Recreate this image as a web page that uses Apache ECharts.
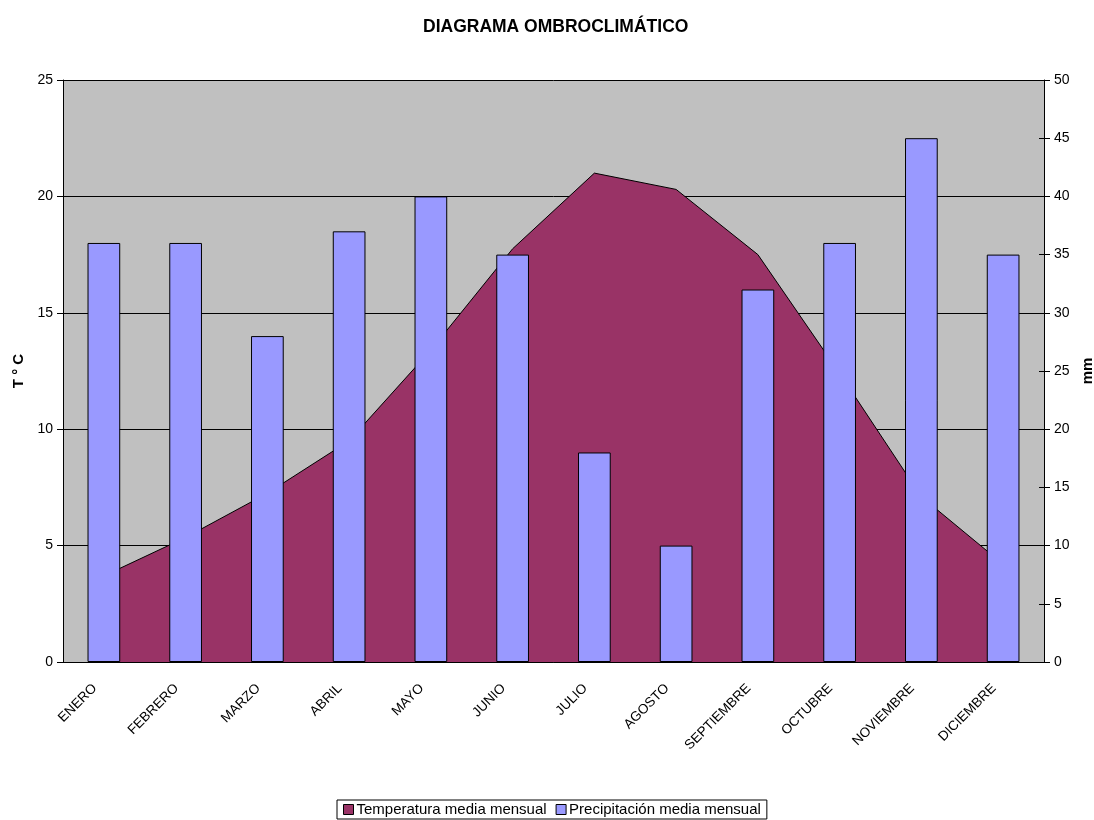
<!DOCTYPE html>
<html>
<head>
<meta charset="utf-8">
<script src="https://cdn.jsdelivr.net/npm/echarts@6/dist/echarts.min.js"></script>
<style>
  html, body { margin: 0; padding: 0; background: #fff; }
  #chart { width: 1094px; height: 820px; }
</style>
</head>
<body>
<div id="chart"></div>
<script>
// meses
const months = ['ENERO', 'FEBRERO', 'MARZO', 'ABRIL', 'MAYO', 'JUNIO', 'JULIO', 'AGOSTO', 'SEPTIEMBRE', 'OCTUBRE', 'NOVIEMBRE', 'DICIEMBRE']
// temperatura media (°C)
const temperatura = [3.7, 5.35, 7.25, 9.5, 13.4, 17.75, 21.0, 20.3, 17.5, 12.4, 7.1, 4.2]
// precipitacion media (mm)
const precipitacion = [36, 36, 28, 37, 40, 35, 18, 10, 32, 36, 45, 35]

const font = 'Liberation Sans, Arial, sans-serif'

let myChart = echarts.init(document.getElementById('chart'))
let option = {
  animation: false,
  textStyle: { fontFamily: font },
  title: {
    text: 'DIAGRAMA OMBROCLIMÁTICO',
    left: 418,
    top: 13,
    textStyle: { fontSize: 17.5, fontWeight: 'bold', color: '#000', fontFamily: font }
  },
  legend: {
    bottom: 1,
    left: 337,
    borderColor: '#000',
    borderWidth: 1,
    padding: [2, 6],
    itemWidth: 10,
    itemHeight: 10,
    itemGap: 9,
    textStyle: { fontSize: 15, color: '#000', fontFamily: font, padding: [0, 0, 0, -2] },
    data: [
      { name: 'Temperatura media mensual', icon: 'rect', itemStyle: { color: '#993366', borderColor: '#000', borderWidth: 1 } },
      { name: 'Precipitación media mensual', icon: 'rect', itemStyle: { color: '#9999FF', borderColor: '#000', borderWidth: 1 } }
    ]
  },
  grid: {
    left: 63,
    right: 50,
    top: 80,
    bottom: 158,
    outerBoundsMode: 'none',
    show: true,
    backgroundColor: '#C0C0C0',
    borderWidth: 0
  },
  xAxis: [
    {
      type: 'category',
      data: months,
      boundaryGap: true,
      axisLine: { lineStyle: { color: '#000', width: 1 } },
      axisTick: { length: 6, lineStyle: { color: '#000' } },
      axisLabel: { rotate: 45, color: '#000', fontSize: 13.5, margin: 15, padding: [0, 13, 0, 0], interval: 0, fontFamily: font }
    },
    {
      // parte interior de las marcas (cruzadas)
      type: 'category',
      data: months,
      position: 'bottom',
      z: 10,
      axisLine: { show: false },
      axisTick: { inside: true, length: 5, lineStyle: { color: '#000' } },
      axisLabel: { show: false }
    }
  ],
  yAxis: [
    {
      type: 'value',
      min: 0,
      max: 25,
      interval: 5,
      name: 'T ° C',
      nameLocation: 'middle',
      nameRotate: 90,
      nameGap: 37,
      nameTextStyle: { fontWeight: 'bold', fontSize: 15, color: '#000', fontFamily: font },
      axisLine: { show: true, lineStyle: { color: '#000' } },
      axisTick: { show: true, length: 6, lineStyle: { color: '#000' } },
      axisLabel: { color: '#000', fontSize: 14, margin: 10, fontFamily: font },
      splitLine: { show: true, lineStyle: { color: '#000', width: 1 } }
    },
    {
      type: 'value',
      min: 0,
      max: 50,
      interval: 5,
      name: 'mm',
      nameLocation: 'middle',
      nameRotate: 90,
      nameGap: 35,
      nameTextStyle: { fontWeight: 'bold', fontSize: 15, color: '#000', fontFamily: font },
      axisLine: { show: true, lineStyle: { color: '#000' } },
      axisTick: { show: true, length: 6, lineStyle: { color: '#000' } },
      axisLabel: { color: '#000', fontSize: 14, margin: 10, fontFamily: font },
      splitLine: { show: false }
    },
    {
      type: 'value',
      position: 'right',
      min: 0,
      max: 50,
      interval: 5,
      z: 10,
      axisLine: { show: false },
      axisTick: { show: true, inside: true, length: 5, lineStyle: { color: '#000' } },
      axisLabel: { show: false },
      splitLine: { show: false }
    }
  ],
  series: [
    {
      name: 'Temperatura media mensual',
      type: 'line',
      yAxisIndex: 0,
      z: 2,
      data: temperatura,
      symbol: 'none',
      lineStyle: { color: '#000', width: 1 },
      itemStyle: { color: '#993366' },
      areaStyle: { color: '#993366', opacity: 1 }
    },
    {
      name: 'Precipitación media mensual',
      type: 'bar',
      yAxisIndex: 1,
      z: 5,
      data: precipitacion,
      barWidth: '40%',
      itemStyle: { color: '#9999FF', borderColor: '#000', borderWidth: 1 }
    }
  ]
}
myChart.setOption(option, true)
</script>
</body>
</html>
